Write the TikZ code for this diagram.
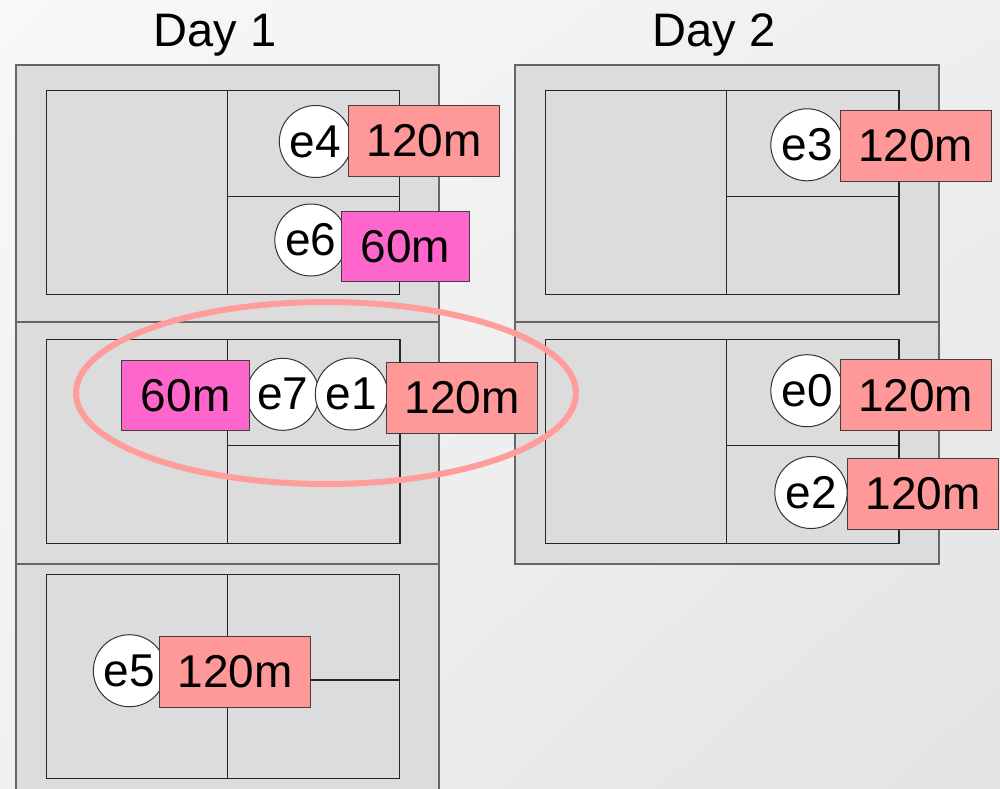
\documentclass[tikz,border=0pt]{standalone}
\usepackage{fontspec}
\setmainfont{Liberation Sans}
\usetikzlibrary{shapes.geometric,shadings}
\definecolor{boxgray}{HTML}{DCDCDC}
\definecolor{outerline}{HTML}{666666}
\definecolor{salmonbox}{HTML}{FF9999}
\definecolor{magentabox}{HTML}{FF66CC}
\definecolor{ringcol}{HTML}{FF9C9C}
\definecolor{bgUL}{HTML}{F8F8F8}
\definecolor{bgUR}{HTML}{EFEFEF}
\definecolor{bgLL}{HTML}{F0F0F0}
\definecolor{bgLR}{HTML}{E3E3E3}
\newcommand{\dgfont}{\fontsize{46}{50}\selectfont}
\newcommand{\dgtitlefont}{\fontsize{47}{50}\selectfont}
\begin{document}
\begin{tikzpicture}[x=1pt,y=-1pt,
  outerbox/.style={fill=boxgray, draw=outerline, line width=2pt},
  innerbox/.style={draw=black!85, line width=1.5pt},
  evt/.style={ellipse, draw=black!80, fill=white, line width=1pt, minimum width=69pt, minimum height=72pt, inner sep=0pt, font=\dgfont},
  dur/.style={rectangle, draw=black!75, line width=1pt, inner sep=0pt, font=\dgfont},
  longdur/.style={dur, fill=salmonbox, minimum width=151pt, minimum height=71pt},
  shortdur/.style={dur, fill=magentabox, minimum width=128pt, minimum height=70pt},
  daytitle/.style={font=\dgtitlefont, anchor=base, inner sep=0pt}]
\useasboundingbox (0,0) rectangle (1000,788);
\clip (0,0) rectangle (1000,788);
\shade[upper left=bgUL, upper right=bgUR, lower left=bgLL, lower right=bgLR] (0,0) rectangle (1000,788);

% titles
\node[daytitle] (t1) at (215,46) {Day 1};
\node[daytitle] (t2) at (714,46) {Day 2};

% Day 1 outer boxes
\draw[outerbox] (16,65) rectangle (439,322);
\draw[outerbox] (16,322) rectangle (439,564);
\draw[outerbox] (16,564) rectangle (439,810);
% Day 2 outer boxes
\draw[outerbox] (515.3,65) rectangle (938.7,322);
\draw[outerbox] (515.3,322) rectangle (938.7,563.7);

% Day 1 inner
\draw[innerbox] (46.3,90.3) rectangle (399.7,294.3);
\draw[innerbox] (227.3,90.3) -- (227.3,294.3);
\draw[innerbox] (227.3,196.3) -- (399.7,196.3);

\draw[innerbox] (46.3,339.7) rectangle (400,543.7);
\draw[innerbox] (227.3,339.7) -- (227.3,543.7);
\draw[innerbox] (227.3,445.7) -- (400,445.7);

\draw[innerbox] (46.3,574.3) rectangle (399.7,778.3);
\draw[innerbox] (227.3,574.3) -- (227.3,778.3);
\draw[innerbox] (227.3,680) -- (399.7,680);

% Day 2 inner
\draw[innerbox] (545.3,90.3) rectangle (899,294.3);
\draw[innerbox] (726.3,90.3) -- (726.3,294.3);
\draw[innerbox] (726.3,196.3) -- (899,196.3);

\draw[innerbox] (545.3,339.7) rectangle (899,543.7);
\draw[innerbox] (726.3,339.7) -- (726.3,543.7);
\draw[innerbox] (726.3,445.7) -- (899,445.7);

% events Day 1
\node[evt] (e4) at (315.5,141.5) {e4};
\node[longdur] (d4) at (424.2,140.5) {120m};
\node[evt] (e6) at (311,240) {e6};
\node[shortdur] (d6) at (405.5,246.3) {60m};

\node[evt, minimum width=67pt] (e7) at (282.8,394.3) {e7};
\node[evt, minimum width=68pt] (e1) at (351.5,394) {e1};
\node[shortdur] (d7) at (185.6,395.2) {60m};
\node[longdur] (d1) at (462.1,397.7) {120m};

\node[evt] (e5) at (129.5,670.7) {e5};
\node[longdur] (d5) at (235.3,671.7) {120m};

% events Day 2
\node[evt] (e3) at (807,144.8) {e3};
\node[longdur] (d3) at (915.7,145.8) {120m};
\node[evt] (e0) at (807,390.7) {e0};
\node[longdur] (d0) at (915.7,395.2) {120m};
\node[evt] (e2) at (811,492.5) {e2};
\node[longdur] (d2) at (923.2,493.5) {120m};

% highlight ring
\node[ellipse, draw=ringcol, line width=6pt, minimum width=500pt, minimum height=182pt, inner sep=0pt] (ring) at (326,393) {};
\end{tikzpicture}
\end{document}
